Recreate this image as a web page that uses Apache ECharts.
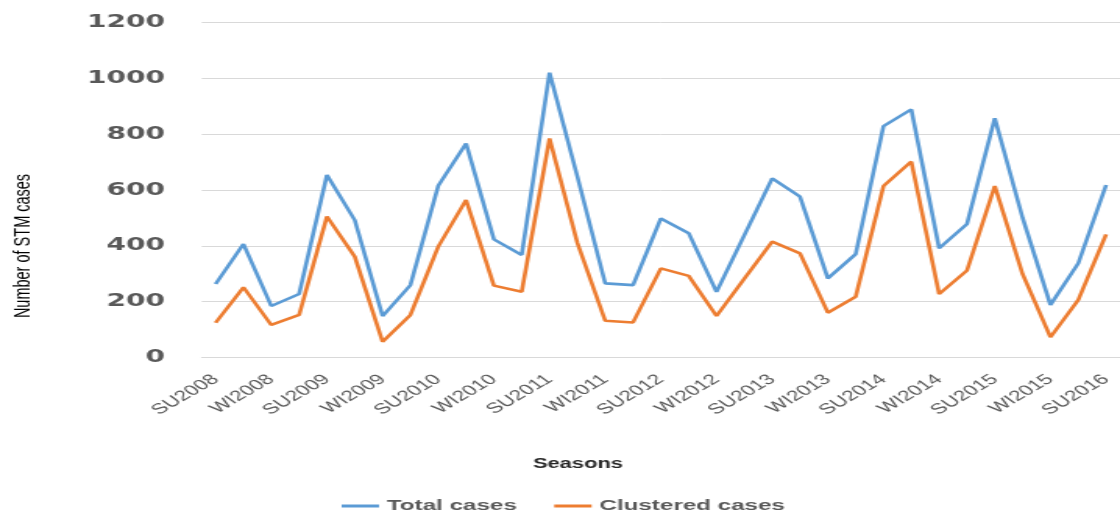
<!DOCTYPE html>
<html>
<head>
<meta charset="utf-8">
<title>STM cases by season</title>
<script src="https://cdn.jsdelivr.net/npm/echarts@6/dist/echarts.min.js"></script>
<style>
  html, body { margin: 0; padding: 0; background: #ffffff; overflow: hidden; }
  /* chart is laid out on a narrower canvas and widened horizontally */
  #chart { width: 718px; height: 514px; transform: scaleX(1.5599); transform-origin: 0 0; }
</style>
</head>
<body>
<div id="chart"></div>
<script>
// Seasonal categories (four seasons per year, every other one labelled)
const seasons = [
  'SU2008', 'FA2008', 'WI2008', 'SP2009',
  'SU2009', 'FA2009', 'WI2009', 'SP2010',
  'SU2010', 'FA2010', 'WI2010', 'SP2011',
  'SU2011', 'FA2011', 'WI2011', 'SP2012',
  'SU2012', 'FA2012', 'WI2012', 'SP2013',
  'SU2013', 'FA2013', 'WI2013', 'SP2014',
  'SU2014', 'FA2014', 'WI2014', 'SP2015',
  'SU2015', 'FA2015', 'WI2015', 'SP2016',
  'SU2016'
];

// Number of STM cases per season
const totalCases = [
  263, 406, 184, 227, 654, 492, 148, 259, 615, 767, 423,
  367, 1021, 648, 265, 259, 498, 445, 235, 438, 642, 576,
  283, 370, 829, 889, 391, 478, 857, 500, 188, 337, 618
];
const clusteredCases = [
  124, 251, 116, 152, 505, 361, 56, 152, 397, 564, 257,
  235, 785, 410, 131, 125, 319, 292, 148, 282, 415, 373,
  160, 217, 614, 702, 227, 311, 614, 298, 72, 206, 441
];

// Value axis ticks
const yTicks = { min: 0, max: 1200, interval: 200 };

const chart = echarts.init(document.getElementById('chart'), null, { renderer: 'canvas' });

chart.setOption({
  animation: false,
  backgroundColor: '#ffffff',
  color: ['#5B9BD5', '#ED7D31'],
  grid: { left: 129.3, top: 22.7, width: 593.6, height: 334.6, containLabel: false },
  legend: {
    left: 214,
    top: 493,
    itemWidth: 24,
    itemHeight: 3,
    itemGap: 24,
    icon: 'rect',
    textStyle: { fontFamily: 'Liberation Sans', fontSize: 15.5, fontWeight: 'bold', color: '#595959' },
    data: ['Total cases', 'Clustered cases']
  },
  xAxis: {
    type: 'category',
    data: seasons,
    boundaryGap: true,
    axisLine: { lineStyle: { color: '#D9D9D9', width: 1 } },
    axisTick: { show: false },
    axisLabel: {
      interval: 1,
      rotate: 42,
      margin: 20,
      fontFamily: 'Liberation Sans',
      fontSize: 14.5,
      color: '#595959'
    }
  },
  yAxis: {
    type: 'value',
    min: yTicks.min,
    max: yTicks.max,
    interval: yTicks.interval,
    axisLine: { show: false },
    axisTick: { show: false },
    splitLine: { lineStyle: { color: '#D9D9D9', width: 1 } },
    axisLabel: {
      margin: 23.5,
      formatter: (v) => String(v),
      fontFamily: 'DejaVu Sans',
      fontSize: 18,
      fontWeight: 'bold',
      color: '#595959'
    }
  },
  graphic: [
    {
      type: 'text',
      x: 15,
      y: 246,
      rotation: Math.PI / 2,
      style: {
        text: 'Number of STM cases',
        font: '14.5px "Liberation Sans"',
        fill: '#000000',
        align: 'center',
        verticalAlign: 'middle'
      }
    },
    {
      type: 'text',
      x: 370.5,
      y: 464,
      style: {
        text: 'Seasons',
        font: 'bold 14px "Liberation Sans"',
        fill: '#262626',
        align: 'center',
        verticalAlign: 'middle'
      }
    }
  ],
  series: [
    {
      name: 'Total cases',
      type: 'line',
      data: totalCases,
      showSymbol: false,
      symbol: 'none',
      lineStyle: { width: 2.6, color: '#5B9BD5' }
    },
    {
      name: 'Clustered cases',
      type: 'line',
      data: clusteredCases,
      showSymbol: false,
      symbol: 'none',
      lineStyle: { width: 2.6, color: '#ED7D31' }
    }
  ]
});
</script>
</body>
</html>
